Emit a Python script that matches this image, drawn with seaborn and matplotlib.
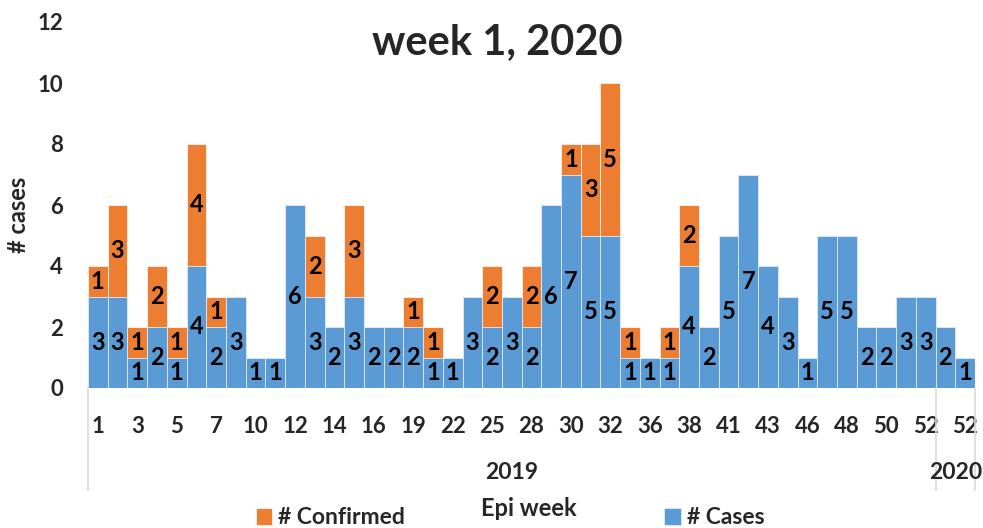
import matplotlib
matplotlib.use("Agg")
import matplotlib.pyplot as plt
import pandas as pd
import seaborn as sns

# Weekly counts (45 consecutive epi weeks, 2019 -> 2020)
cases = [3, 3, 1, 2, 1, 4, 2, 3, 1, 1, 6, 3, 2, 3, 2, 2, 2, 1, 1, 3, 2, 3, 2,
         6, 7, 5, 5, 1, 1, 1, 4, 2, 5, 7, 4, 3, 1, 5, 5, 2, 2, 3, 3, 2, 1]
confirmed = [1, 3, 1, 2, 1, 4, 1, 0, 0, 0, 0, 2, 0, 3, 0, 0, 1, 1, 0, 0, 2, 0, 2,
             0, 1, 3, 5, 1, 0, 1, 2, 0, 0, 0, 0, 0, 0, 0, 0, 0, 0, 0, 0, 0, 0]
week_labels = ["1", "2", "3", "4", "5", "6", "7", "9", "10", "11", "12", "13",
               "14", "15", "16", "18", "19", "20", "22", "24", "25", "27", "28",
               "29", "30", "31", "32", "34", "36", "37", "38", "40", "41", "42",
               "43", "45", "46", "47", "48", "49", "50", "51", "52", "1", "52"]
year_groups = ["2019", "2020"]
year_sizes = [43, 2]

BLUE = "#5B9BD5"
ORANGE = "#ED7D31"

df = pd.DataFrame({
    "slot": range(len(cases)),
    "cases": cases,
    "confirmed": confirmed,
})
df["total"] = df["cases"] + df["confirmed"]

sns.set_style("white")
plt.rcParams["font.family"] = ["Lato", "DejaVu Sans"]
plt.rcParams["font.weight"] = "bold"

fig = plt.figure(figsize=(9.83, 5.28), dpi=100)
ax = fig.add_axes([88 / 983, 1 - 388 / 528, (975 - 88) / 983, 366 / 528])

# Stacked look: total in orange, cases drawn over it in blue
sns.barplot(data=df, x="slot", y="total", color=ORANGE, width=1, ax=ax,
            label="# Confirmed", edgecolor="#f4f4f4", linewidth=0.6,
            saturation=1)
sns.barplot(data=df, x="slot", y="cases", color=BLUE, width=1, ax=ax,
            label="# Cases", edgecolor="#e3ecf6", linewidth=0.6,
            saturation=1)

# Data labels centred in each segment
for i, row in df.iterrows():
    ax.text(i, row["cases"] / 2, str(row["cases"]), ha="center", va="center",
            fontsize=17, fontweight="bold", color="black")
    if row["confirmed"] > 0:
        ax.text(i, row["cases"] + row["confirmed"] / 2, str(row["confirmed"]),
                ha="center", va="center", fontsize=17, fontweight="bold",
                color="black")

ax.set_xlim(-0.5, len(cases) - 0.5)
ax.set_ylim(0, 12)
ax.set_yticks(range(0, 13, 2))
ax.tick_params(axis="y", length=0, pad=18, labelsize=16)
ax.set_xticks(range(0, len(cases), 2))
ax.set_xticklabels(week_labels[::2], fontsize=16, fontweight="bold")
ax.tick_params(axis="x", length=0, pad=20)
for label in ax.get_yticklabels():
    label.set_fontweight("bold")
sns.despine(ax=ax, left=True, bottom=True)
ax.set_xlabel("")
ax.set_ylabel("")

# Year grouping under the week labels
trans = ax.get_xaxis_transform()
start = -0.5
ax.plot([start, start], [0, -0.28], color="#d9d9d9", lw=1.2,
        transform=trans, clip_on=False)
for year, size in zip(year_groups, year_sizes):
    end = start + size
    ax.plot([end, end], [0, -0.28], color="#d9d9d9", lw=1.2,
            transform=trans, clip_on=False)
    ax.text((start + end) / 2, -0.23, year, transform=trans, ha="center",
            va="center", fontsize=16.5, fontweight="bold")
    start = end

fig.text(497 / 983, 1 - 43 / 528, "week 1, 2020", ha="center", va="center",
         fontsize=30, fontweight="bold")
fig.text(19 / 983, 1 - 215 / 528, "# cases", rotation=90, ha="center",
         va="center", fontsize=17, fontweight="bold")
fig.text(529 / 983, 1 - 509 / 528, "Epi week", ha="center", va="center",
         fontsize=17, fontweight="bold")

handles, labels = ax.get_legend_handles_labels()
if ax.get_legend() is not None:
    ax.get_legend().remove()
fig.legend(handles, labels, loc="center", bbox_to_anchor=(510 / 983, 1 - 518 / 528),
           ncol=2, frameon=False, columnspacing=11.3,
           handlelength=0.72, handleheight=0.72, handletextpad=0.27,
           prop={"weight": "bold", "size": 16.5})

fig.savefig("out.png", dpi=100)
